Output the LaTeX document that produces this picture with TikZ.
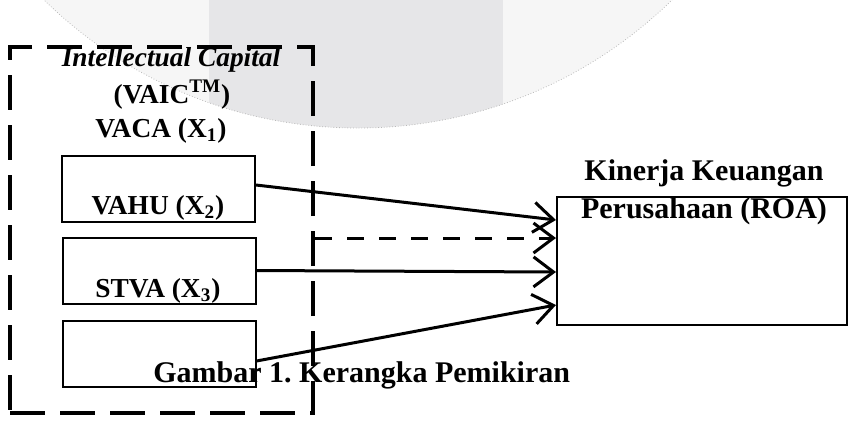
\documentclass[tikz,border=0pt]{standalone}
\usepackage{fontspec}
\setmainfont{Liberation Serif}
\usetikzlibrary{arrows.meta,calc}
\definecolor{wmlight}{HTML}{F6F6F6}
\definecolor{wmband}{HTML}{E6E6E8}
\frenchspacing
\begin{document}
\begin{tikzpicture}[x=0.5pt, y=-0.5pt,
  frame/.style={draw, line width=2pt, dash pattern=on 17.5pt off 7.5pt, minimum width=151.5pt, minimum height=183pt, inner sep=0pt},
  var/.style={draw, line width=1pt, minimum width=96.5pt, minimum height=33pt, inner sep=0pt},
  lbl/.style={font=\fontsize{13.7}{17}\selectfont\bfseries, anchor=base, inner sep=0pt},
  biglbl/.style={lbl, font=\fontsize{15}{18}\selectfont\bfseries},
  link/.style={line width=1.5pt, -{Straight Barb[length=10pt, width=15pt]}}
]
\useasboundingbox (0,0) rectangle (853,425);
\begin{scope}
  \clip (0,0) rectangle (853,425);
  \fill[wmlight] (358,-321) circle [radius=224.5pt];
  \clip (358,-321) circle [radius=224.5pt];
  \fill[wmband] (209,-10) rectangle (503,140);
\end{scope}
\draw[gray!55, line width=0.4pt, densely dotted] (358,-321) circle [radius=224.5pt];

\node[frame] (ic) at (161.5,230) {};
\node[var] (vahu) at (158.5,189) {};
\node[var] (stva) at (159,270.5) {};
\node[var] (box3) at (159,354) {};
\node[draw, line width=1pt, minimum width=145pt, minimum height=64pt, inner sep=0pt] (roa) at (702,261) {};

\coordinate (in1) at ($(roa.west)+(0,-41)$);
\coordinate (in2) at ($(roa.west)+(0,-23)$);
\coordinate (in3) at ($(roa.west)+(0,11)$);
\coordinate (in4) at ($(roa.west)+(0,44)$);
\draw[link] ($(vahu.east)+(0,-4)$) -- (in1);
\draw[link, dash pattern=on 8.5pt off 7.5pt] (ic.east |- in2) -- (in2);
\draw[link] (stva.east) -- (in3);
\draw[link] ($(box3.east)+(0,7)$) -- (in4);

\node[lbl, font=\fontsize{13.7}{17}\selectfont\bfseries\itshape] (ictitle) at (171,66) {Intellectual Capital};
\node[lbl] (vaic) at (172,103) {(VAIC\textsuperscript{TM})};
\node[lbl] (vaca) at (161,137) {VACA (X\textsubscript{1})};
\node[lbl] (vahutxt) at (158,214) {VAHU (X\textsubscript{2})};
\node[lbl] (stvatxt) at (158,297) {STVA (X\textsubscript{3})};
\node[biglbl] (roatxt1) at (704,180) {Kinerja Keuangan};
\node[biglbl] (roatxt2) at (704,218) {Perusahaan (ROA)};
\node[biglbl, anchor=base west] (caption) at (153,382) {Gambar 1. Kerangka Pemikiran};
\end{tikzpicture}
\end{document}
